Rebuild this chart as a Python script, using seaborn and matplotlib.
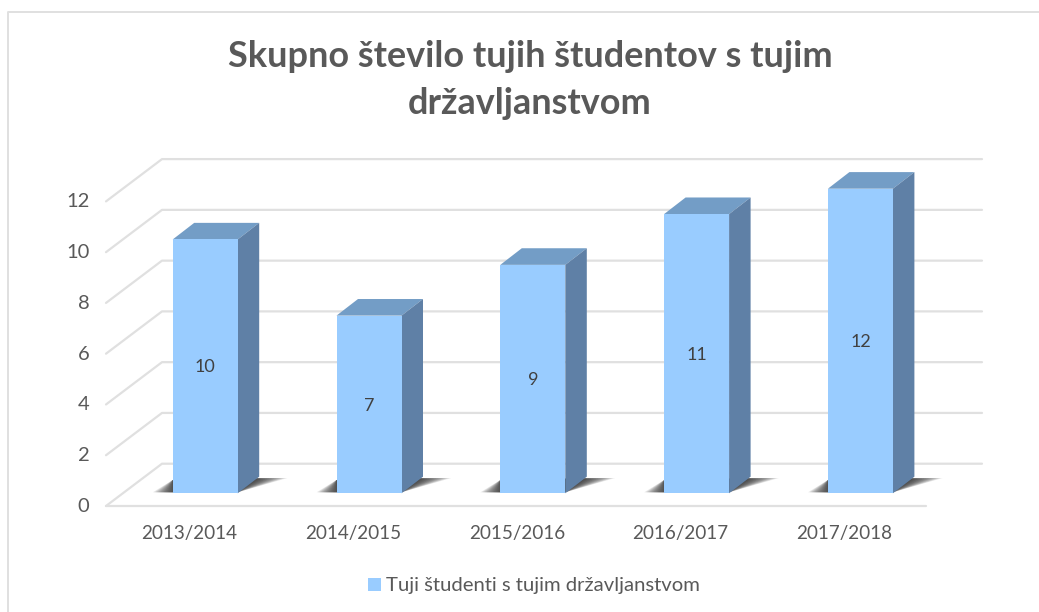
import matplotlib
matplotlib.use('Agg')
import matplotlib.pyplot as plt
from matplotlib.lines import Line2D
from matplotlib.patches import Polygon
from matplotlib.transforms import ScaledTranslation
import seaborn as sns

years = ['2013/2014', '2014/2015', '2015/2016', '2016/2017', '2017/2018']
students = [10, 7, 9, 11, 12]
y_ticks = [0, 2, 4, 6, 8, 10, 12]
series_name = 'Tuji študenti s tujim državljanstvom'
title = 'Skupno število tujih študentov s tujim\ndržavljanstvom'

W, H = 1039, 612
DPI = 100
FACE = '#99CCFF'
TOP = '#739DC6'
SIDE = '#5F80A6'
GRID = '#E0E0E0'
TEXT = '#595959'

# pixel layout
LEFT, RIGHT = 106, 926
BASE, TOP_PX = 493.3, 188.7
FIRST_CENTRE, STEP = 205.2, 163.8


def main():
  sns.set_theme(style='white')
  plt.rcParams['font.family'] = ['Lato', 'DejaVu Sans']

  fig = plt.figure(figsize=(W / DPI, H / DPI), dpi=DPI)
  ax = fig.add_axes([LEFT / W, 1 - BASE / H, (RIGHT - LEFT) / W, (BASE - TOP_PX) / H])
  ax.patch.set_visible(False)

  sns.barplot(x=years, y=students, color=FACE, saturation=1, width=65 / STEP,
              linewidth=0, label=series_name, ax=ax)

  ax.set_xlim((LEFT - FIRST_CENTRE) / STEP, (RIGHT - FIRST_CENTRE) / STEP)
  ax.set_ylim(0, 12)
  x0, x1 = ax.get_xlim()
  unit = (BASE - TOP_PX) / 12

  # walls
  wall_dx, wall_dy = 56 / STEP, 42.3 / unit
  floor = -12.7 / unit
  for v in y_ticks:
    ax.plot([x0, x0 + wall_dx, x1 + wall_dx],
            [v + floor, v + floor + wall_dy, v + floor + wall_dy],
            color=GRID, lw=1.6, clip_on=False, zorder=0.5)
  ax.plot([x0, x1], [floor, floor], color=GRID, lw=1.6, clip_on=False, zorder=0.5)

  # depth faces and floor shadow of every bar
  dx, dy = 21.5 / STEP, 16.6 / unit
  for bar in ax.containers[0]:
    l, w, h = bar.get_x(), bar.get_width(), bar.get_height()
    r = l + w
    for grow in range(16):
      g = grow * 1.9 / STEP
      ax.add_patch(Polygon([(l - g * 0.7, 0.04), (r, 0.04), (r + dx + g, dy - 0.05), (l, dy * 0.8)],
                           closed=True, fc='#222222', ec='none', alpha=0.09,
                           clip_on=False, zorder=0.8))
    ax.add_patch(Polygon([(l, h), (r, h), (r + dx, h + dy), (l + dx, h + dy)],
                         closed=True, fc=TOP, ec='none', clip_on=False, zorder=1.1))
    ax.add_patch(Polygon([(r, 0), (r + dx, dy), (r + dx, h + dy), (r, h)],
                         closed=True, fc=SIDE, ec='none', clip_on=False, zorder=1.1))
    bar.set_zorder(1.2)

  labels = ax.bar_label(ax.containers[0], label_type='center', color='#404040', fontsize=13, zorder=3)
  for label in labels:
    label.xyann = (0, -0.8)

  # tick labels
  ax.set_yticks(y_ticks)
  ax.tick_params(axis='both', length=0, colors=TEXT)
  ax.tick_params(axis='y', pad=12, labelsize=14.5)
  ax.tick_params(axis='x', pad=23, labelsize=13.6)
  down = ScaledTranslation(0, -11.5 / DPI, fig.dpi_scale_trans)
  for label in ax.get_yticklabels():
    label.set_transform(label.get_transform() + down)
  back = ScaledTranslation(-16 / DPI, 0, fig.dpi_scale_trans)
  for label in ax.get_xticklabels():
    label.set_transform(label.get_transform() + back)

  sns.despine(ax=ax, left=True, bottom=True)

  fig.text(530 / W, 1 - 80 / H, title, ha='center', va='center', ma='center',
           fontsize=25.9, fontweight='bold', color=TEXT, linespacing=1.55)

  leg = ax.legend(loc='center', bbox_to_anchor=(534 / W, 1 - 586 / H),
                  bbox_transform=fig.transFigure, frameon=False, fontsize=14.6,
                  handlelength=0.65, handleheight=0.65, handletextpad=0.22,
                  labelcolor=TEXT)
  leg.set_zorder(3)

  # chart frame (only left and top show in the crop)
  fig.add_artist(Line2D([8 / W, 8 / W, 1], [0, 1 - 12 / H, 1 - 12 / H],
                        color=GRID, lw=1.4, transform=fig.transFigure))

  fig.savefig('out.png', dpi=DPI)


if __name__ == '__main__':
  main()
